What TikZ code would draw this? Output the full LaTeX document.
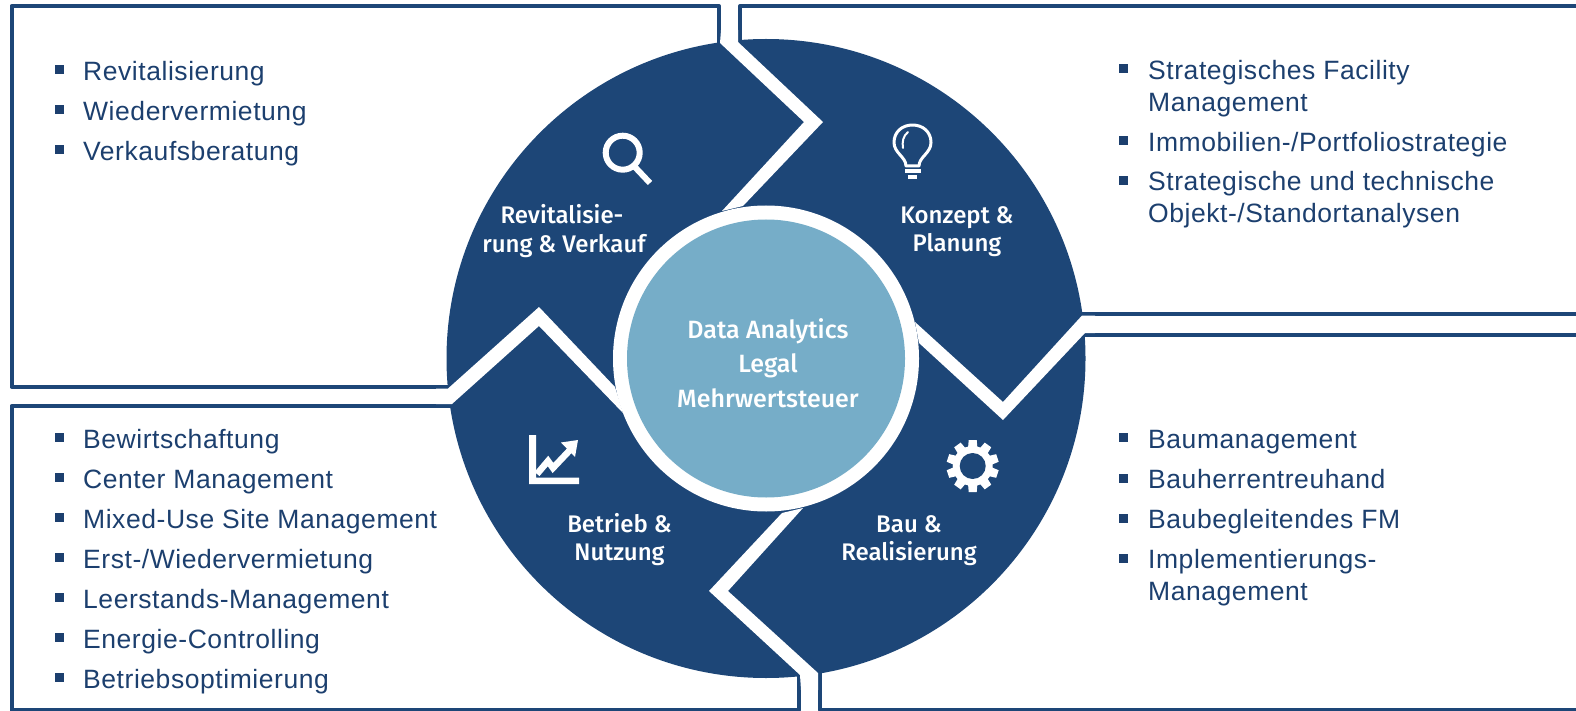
\documentclass[tikz,border=0pt]{standalone}
\usepackage{fontspec}
\setmainfont[LetterSpace=2.1]{Liberation Sans}
\newfontfamily\din{Fira Sans Medium}
\definecolor{navy}{HTML}{1D4677}
\definecolor{sky}{HTML}{76ADC8}
\definecolor{listblue}{HTML}{1C3F6E}
\tikzset{
  frameline/.style={draw=navy,line width=4pt,line join=round},
  gapshape/.style={fill=white,draw=none},
  listitem/.style={anchor=base west,inner sep=0pt,text=listblue,font=\fontsize{26.5}{30}\selectfont},
  marker/.style={fill=listblue,draw=none},
  seglabel/.style={anchor=base,inner sep=0pt,text=white,font=\din\fontsize{24}{28}\selectfont},
  midlabel/.style={anchor=base,inner sep=0pt,text=white,font=\din\fontsize{25}{28}\selectfont},
  iconline/.style={draw=white,line width=6pt}
}
\newcommand{\bul}[2]{\fill[marker] (#1,#2-15) rectangle ++(9,9);}
\begin{document}
\begin{tikzpicture}[x=1pt,y=-1pt]
\useasboundingbox (0,0) rectangle (1576,711);
% frames
\draw[frameline] (719,50) -- (719,6) -- (11.5,6) -- (11.5,386.5) -- (455,386.5);
\draw[frameline] (740,50) -- (740,6) -- (1576,6);
\draw[frameline] (1070,313.5) -- (1576,313.5);
\draw[frameline] (1070,335) -- (1576,335);
\draw[frameline] (820,660) -- (820,709.5) -- (1576,709.5);
\draw[frameline] (799,660) -- (799,709.5) -- (11.5,709.5) -- (11.5,406) -- (460,406);
% disc
\fill[navy] (766,358.5) circle[radius=319.5];
% separators
\fill[gapshape] (721,30) -- (720,43) -- (804,122) -- (722,211) -- (743,206) -- (823,122) -- (738,42) -- (738,30) -- cycle;
\fill[gapshape] (1095,315.5) -- (1082,315.5) -- (1003,402) -- (915,322) -- (919,343) -- (1003,420) -- (1085,333) -- (1095,333) -- cycle;
\fill[gapshape] (801,690) -- (800,675) -- (709,591) -- (782,513) -- (803,508) -- (728,591) -- (818,673) -- (818,690) -- cycle;
\fill[gapshape] (436,388.5) -- (448,388.5) -- (539,307) -- (615,387) -- (623,413) -- (539,326) -- (452,404) -- (436,404) -- cycle;
% centre
\fill[white] (766,358.5) circle[radius=153];
\fill[sky] (766,358.5) circle[radius=139];
% list left top
\bul{55}{80}\node[listitem] (a1) at (83,81) {Revitalisierung};
\bul{55}{120}\node[listitem] (a2) at (83,121) {Wiedervermietung};
\bul{55}{160}\node[listitem] (a3) at (83,161) {Verkaufsberatung};
% list left bottom
\bul{55}{448}\node[listitem] (b1) at (83,448) {Bewirtschaftung};
\bul{55}{488}\node[listitem] (b2) at (83,488) {Center Management};
\bul{55}{528}\node[listitem] (b3) at (83,528) {Mixed-Use Site Management};
\bul{55}{568}\node[listitem] (b4) at (83,568) {Erst-/Wiedervermietung};
\bul{55}{608}\node[listitem] (b5) at (83,608) {Leerstands-Management};
\bul{55}{648}\node[listitem] (b6) at (83,648) {Energie-Controlling};
\bul{55}{688}\node[listitem] (b7) at (83,688) {Betriebsoptimierung};
% list right top
\bul{1119}{79.5}\node[listitem] (c1) at (1148,79.5) {Strategisches Facility};
\node[listitem] (c1b) at (1148,111.5) {Management};
\bul{1119}{151.5}\node[listitem] (c2) at (1148,151.5) {Immobilien-/Portfoliostrategie};
\bul{1119}{191}\node[listitem] (c3) at (1148,191) {Strategische und technische};
\node[listitem] (c3b) at (1148,223) {Objekt-/Standortanalysen};
% list right bottom
\bul{1119}{448}\node[listitem] (d1) at (1148,448) {Baumanagement};
\bul{1119}{488.5}\node[listitem] (d2) at (1148,488.5) {Bauherrentreuhand};
\bul{1119}{528.5}\node[listitem] (d3) at (1148,528.5) {Baubegleitendes FM};
\bul{1119}{568.5}\node[listitem] (d4) at (1148,568.5) {Implementierungs-};
\node[listitem] (d4b) at (1148,600) {Management};
% segment labels
\node[seglabel] (l1) at (562,224) {Revitalisie-};
\node[seglabel] (l1b) at (564,253) {rung \& Verkauf};
\node[seglabel] (l2) at (957,224) {Konzept \&};
\node[seglabel] (l2b) at (957,252) {Planung};
\node[seglabel] (l3) at (909,532) {Bau \&};
\node[seglabel] (l3b) at (909,560) {Realisierung};
\node[seglabel] (l4) at (619.5,532) {Betrieb \&};
\node[seglabel] (l4b) at (619.5,560) {Nutzung};
\node[midlabel] (m1) at (768,338) {Data Analytics};
\node[midlabel] (m2) at (768,372.5) {Legal};
\node[midlabel] (m3) at (768,407) {Mehrwertsteuer};
% magnifier
\draw[iconline] (622.7,152.7) circle[radius=17];
\draw[iconline] (633,165) -- (650,183);
% bulb
\draw[white,line width=3pt,line join=round] (906,166) .. controls (906,157) and (894,153) .. (894,142.5)
  .. controls (894,132) and (902,125) .. (912.5,125) .. controls (923,125) and (931,132) .. (931,142.5)
  .. controls (931,153) and (919,157) .. (919,166) -- cycle;
\draw[white,line width=2pt,line cap=round] (908,132) .. controls (903,136) and (902,142) .. (903,148);
\fill[white] (905,169) rectangle (921,173);
\fill[white] (908,175) rectangle (917,179);
% gear
\begin{scope}[shift={(972.7,466)}]
\foreach \a in {90,126,...,414}{
  \fill[white,rotate=\a] (14,-5) -- (26,-4) -- (26,4) -- (14,5) -- cycle;
}
\fill[white] (0,0) circle[radius=20];
\fill[navy] (0,0) circle[radius=13];
\end{scope}
% chart
\fill[white] (529,435) -- (536,435) -- (536,477.5) -- (579,477.5) -- (579,484) -- (529,484) -- cycle;
\draw[white,line width=6.5pt,line join=miter] (537,474) -- (548,461) -- (553,468) -- (570,450);
\fill[white] (561,442.5) -- (578,440) -- (575,457) -- cycle;
\end{tikzpicture}
\end{document}
